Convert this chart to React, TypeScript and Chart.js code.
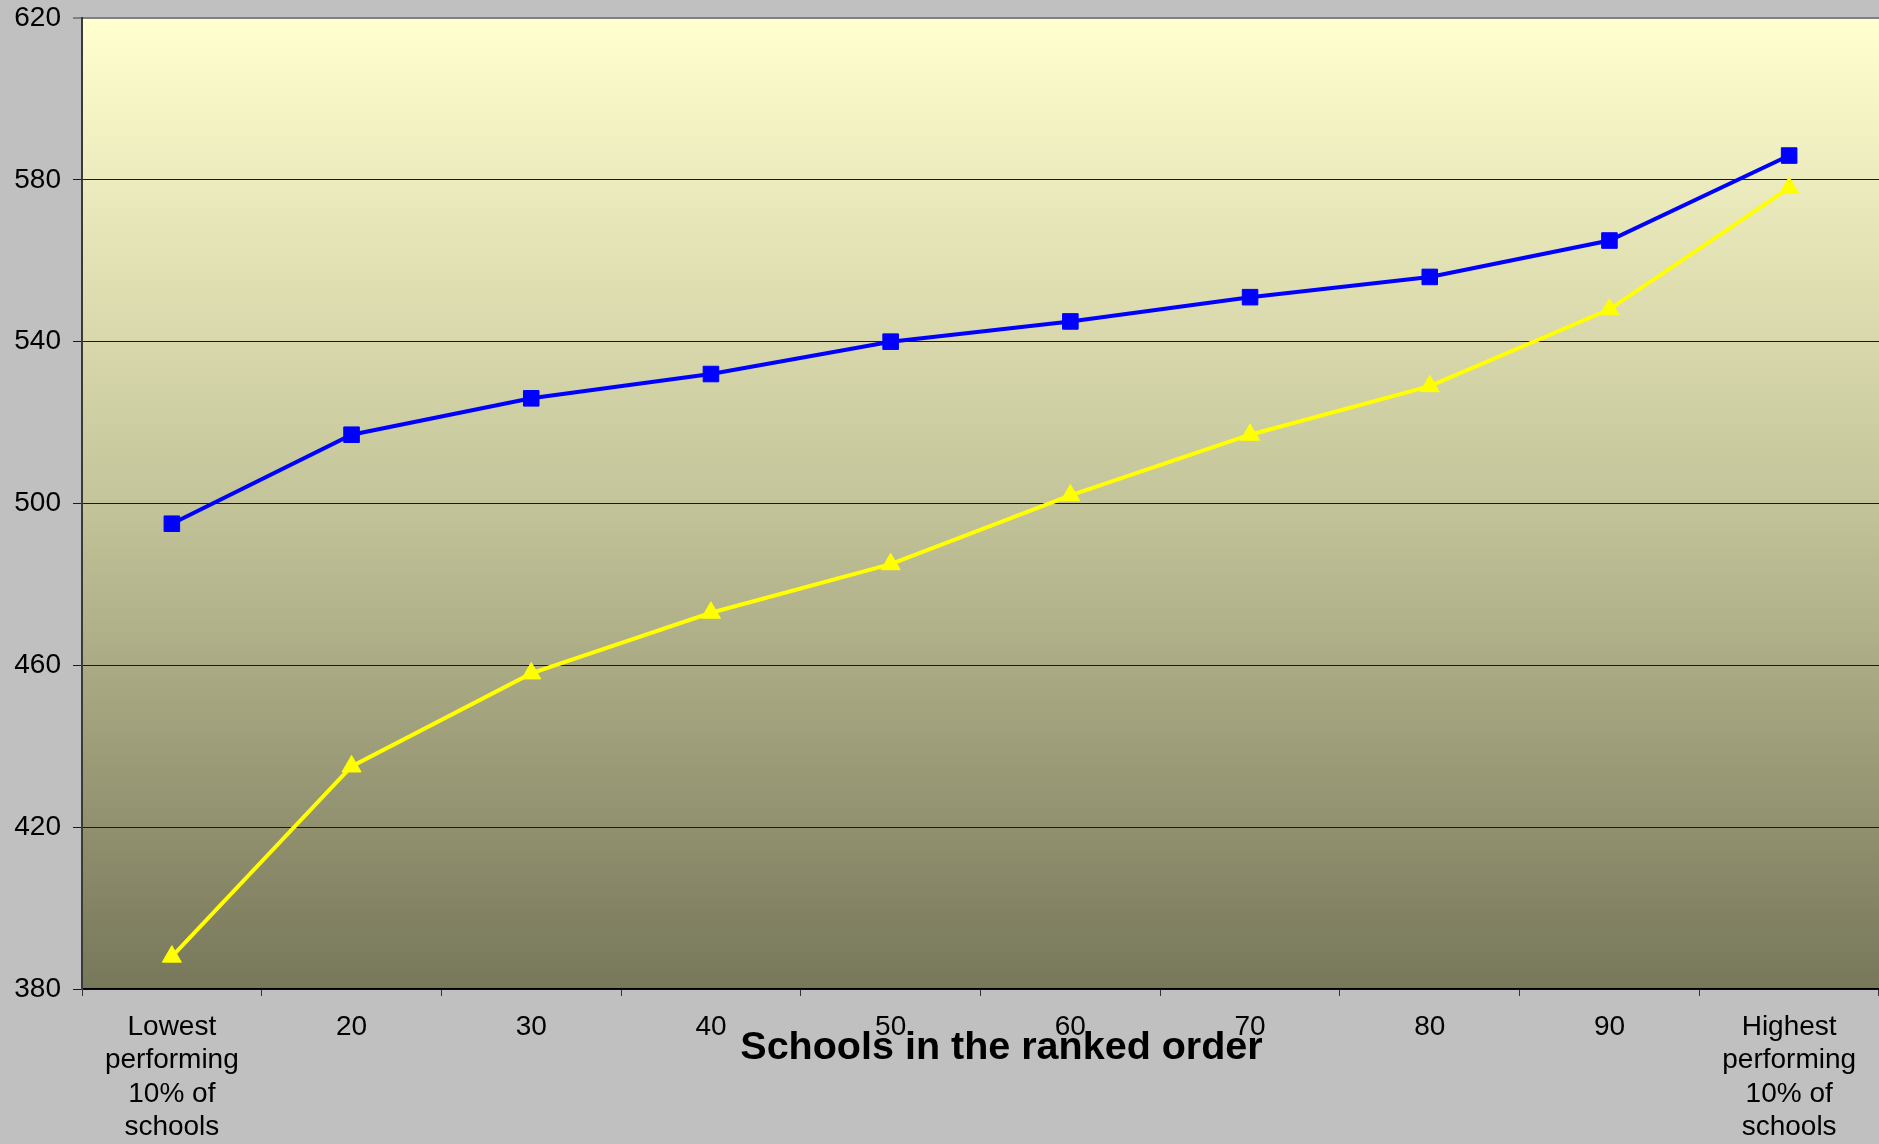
import React, { useEffect, useRef } from "react";
import { Chart, registerables } from "chart.js";

Chart.register(...registerables);

const categories: (string | string[])[] = [
  ["Lowest", "performing", "10% of", "schools"],
  "20",
  "30",
  "40",
  "50",
  "60",
  "70",
  "80",
  "90",
  ["Highest", "performing", "10% of", "schools"],
];

const blueSeries = [495, 517, 526, 532, 540, 545, 551, 556, 565, 586];
const yellowSeries = [388, 435, 458, 473, 485, 502, 517, 529, 548, 578];

const yMin = 380;
const yMax = 620;
const yStep = 40;

const axisTitle = "Schools in the ranked order";

const FONT = "'Liberation Sans', Arial, Helvetica, sans-serif";

const backgroundPlugin = {
  id: "bgPlugin",
  beforeDraw(chart: any) {
    const { ctx, chartArea, width, height } = chart;
    ctx.save();
    ctx.fillStyle = "#c0c0c0";
    ctx.fillRect(0, 0, width, height);
    if (chartArea) {
      const g = ctx.createLinearGradient(0, chartArea.top, 0, chartArea.bottom);
      g.addColorStop(0, "#ffffcf");
      g.addColorStop(0.5, "#c4c49a");
      g.addColorStop(1, "#77775a");
      ctx.fillStyle = g;
      ctx.fillRect(
        chartArea.left,
        chartArea.top,
        width - chartArea.left,
        chartArea.bottom - chartArea.top
      );
    }
    ctx.restore();
  },
};

const titlePlugin = {
  id: "titlePlugin",
  afterDraw(chart: any) {
    const { ctx, chartArea } = chart;
    ctx.save();
    ctx.font = `bold 39.5px ${FONT}`;
    ctx.fillStyle = "#000000";
    ctx.textAlign = "center";
    ctx.textBaseline = "middle";
    const cx = (chartArea.left + chartArea.right) / 2 + 21;
    ctx.fillText(axisTitle, cx, chartArea.bottom + 59);
    ctx.restore();
  },
};

export default function App() {
  const ref = useRef<HTMLCanvasElement | null>(null);

  useEffect(() => {
    document.body.style.margin = "0";
    document.body.style.background = "#c0c0c0";
    const canvas = ref.current;
    if (!canvas) return;
    const chart = new Chart(canvas, {
      type: "line",
      data: {
        labels: categories,
        datasets: [
          {
            label: "Series 1",
            data: blueSeries,
            borderColor: "#0000ff",
            backgroundColor: "#0000ff",
            borderWidth: 4,
            pointStyle: "rect",
            pointRadius: 11,
            pointBorderWidth: 1,
            pointBackgroundColor: "#0000ff",
            pointBorderColor: "#0000ff",
            tension: 0,
            fill: false,
          },
          {
            label: "Series 2",
            data: yellowSeries,
            borderColor: "#ffff00",
            backgroundColor: "#ffff00",
            borderWidth: 4,
            pointStyle: "triangle",
            pointRadius: 11,
            pointBorderWidth: 1,
            pointBackgroundColor: "#ffff00",
            pointBorderColor: "#ffff00",
            tension: 0,
            fill: false,
          },
        ],
      },
      options: {
        responsive: false,
        animation: false,
        maintainAspectRatio: false,
        layout: { autoPadding: false, padding: { top: 18, right: 0, bottom: 0, left: 0 } },
        plugins: {
          legend: { display: false },
          tooltip: { enabled: false },
          title: { display: false },
        },
        scales: {
          x: {
            type: "category",
            offset: true,
            grid: {
              display: true,
              offset: true,
              drawOnChartArea: false,
              drawTicks: true,
              tickLength: 7,
              color: "#333333",
              lineWidth: 1,
            },
            border: { display: true, color: "#000000", width: 1.5 },
            ticks: {
              color: "#000000",
              font: { family: FONT, size: 28, lineHeight: 1.2 },
              padding: 14,
              maxRotation: 0,
              minRotation: 0,
              autoSkip: false,
            },
            afterFit(scale: any) {
              scale.height = 155;
              scale.paddingLeft = 0;
              scale.paddingRight = 0;
            },
          },
          y: {
            min: yMin,
            max: yMax,
            grid: {
              display: true,
              drawTicks: true,
              tickLength: 9,
              color: (c: any) => (c.tick && c.tick.value === yMax ? "#808080" : "#1a1a1a"),
              lineWidth: (c: any) => (c.tick && c.tick.value === yMax ? 2 : 1),
            },
            border: { display: true, color: "#3a3a3a", width: 2 },
            ticks: {
              stepSize: yStep,
              color: "#000000",
              font: { family: FONT, size: 28 },
              padding: 12,
            },
            afterFit(scale: any) {
              scale.width = 82;
              scale.paddingTop = 0;
              scale.paddingBottom = 0;
            },
          },
        },
      },
      plugins: [backgroundPlugin, titlePlugin],
    });
    return () => chart.destroy();
  }, []);

  return (
    <div style={{ width: 1879, height: 1144, background: "#c0c0c0" }}>
      <canvas ref={ref} width={1879} height={1144} style={{ display: "block" }} />
    </div>
  );
}
